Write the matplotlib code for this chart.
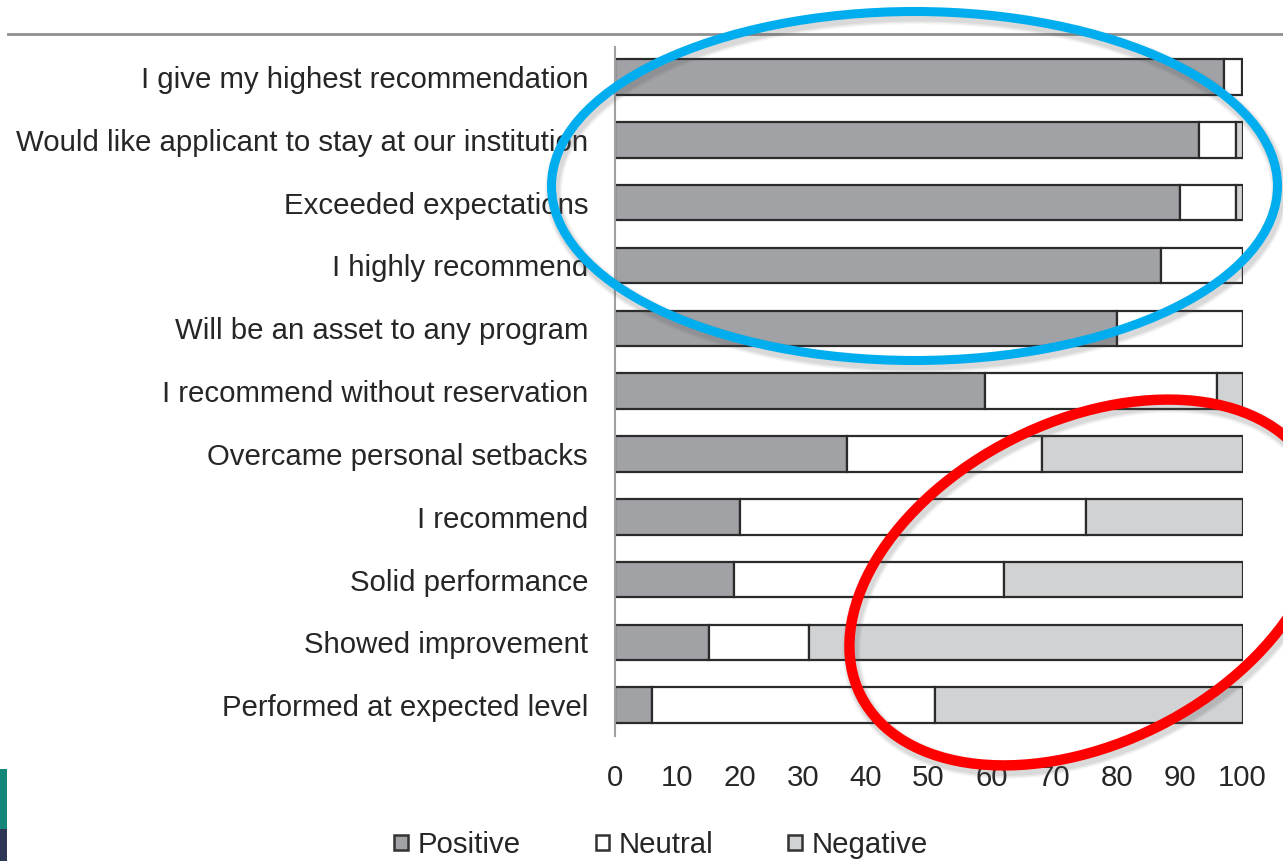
import matplotlib
matplotlib.use("Agg")
import matplotlib.pyplot as plt
from matplotlib.patches import Ellipse, Rectangle, Patch
from matplotlib.lines import Line2D
from matplotlib.transforms import IdentityTransform
import numpy as np

categories = [
    "I give my highest recommendation",
    "Would like applicant to stay at our institution",
    "Exceeded expectations",
    "I highly recommend",
    "Will be an asset to any program",
    "I recommend without reservation",
    "Overcame personal setbacks",
    "I recommend",
    "Solid performance",
    "Showed improvement",
    "Performed at expected level",
]
positive = [97, 93, 90, 87, 80, 59, 37, 20, 19, 15, 6]
neutral = [3, 6, 9, 13, 20, 37, 31, 55, 43, 16, 45]
negative = [0, 1, 1, 0, 0, 4, 32, 25, 38, 69, 49]
xticks = [0, 10, 20, 30, 40, 50, 60, 70, 80, 90, 100]
series_names = ["Positive", "Neutral", "Negative"]
series_colors = ["#a1a2a6", "#ffffff", "#d1d2d4"]

plt.rcParams['font.family'] = ['Liberation Sans', 'DejaVu Sans']

W, H = 1283, 861
fig = plt.figure(figsize=(W / 100, H / 100), dpi=100)
fig.patch.set_facecolor('white')

ax = fig.add_axes([614.5 / W, 1 - 736 / H, (1242.5 - 614.5) / W, (736 - 47) / H])

y = np.arange(len(categories))
edge = '#2b2b2b'
left = np.zeros(len(categories))
for vals, name, col in zip([positive, neutral, negative], series_names, series_colors):
    vals = np.array(vals, dtype=float)
    ax.barh(y, vals, left=left, height=0.565, color=col, edgecolor=edge,
            linewidth=1.6, label=name, zorder=2)
    left += vals

ax.set_xlim(0, 100)
ax.set_ylim(10.49, -0.478)
ax.set_yticks(y)
ax.set_yticklabels(categories)
ax.set_xticks(xticks)
ax.set_xticklabels([str(t) for t in xticks])
ax.tick_params(axis='both', length=0, labelsize=21.2, colors='#262626')
ax.tick_params(axis='y', pad=19)
ax.tick_params(axis='x', pad=20)
for s in ['top', 'right', 'bottom']:
    ax.spines[s].set_visible(False)
ax.spines['left'].set_color('#a0a0a0')
ax.spines['left'].set_linewidth(1.5)

handles = [Patch(facecolor=c, edgecolor='#333333', linewidth=1.8) for c in series_colors]
fig.legend(handles, series_names, loc='center', bbox_to_anchor=(661 / W, 1 - 845 / H),
           ncol=3, frameon=False, handlelength=0.45, handleheight=0.45,
           handletextpad=0.33, columnspacing=2.55, fontsize=21.2, labelcolor='#262626')

# top rule
fig.add_artist(Line2D([8 / W, 1], [1 - 34 / H, 1 - 34 / H], transform=fig.transFigure,
                      color='#8f8f8f', lw=2))

# bottom-left slide decoration
fig.add_artist(Rectangle((0, H - 829), 7, 60, transform=IdentityTransform(),
                         facecolor='#13877a', edgecolor='none'))
fig.add_artist(Rectangle((0, 0), 7, H - 829, transform=IdentityTransform(),
                         facecolor='#2d3654', edgecolor='none'))

# annotation ellipses with soft shadow
def ring(cx, cy, w, h, ang, color, lw):
    for k, a in [(6, 0.06), (4, 0.08), (2, 0.10)]:
        fig.add_artist(Ellipse((cx + 2, H - cy - 4), w, h, angle=ang, fill=False,
                               edgecolor='#555555', lw=lw + k, alpha=a,
                               transform=IdentityTransform(), zorder=9))
    fig.add_artist(Ellipse((cx, H - cy), w, h, angle=ang, fill=False, edgecolor=color,
                           lw=lw, transform=IdentityTransform(), zorder=10))

ring(914.5, 186, 726, 349, 0, '#00aeef', 6.5)
ring(1086, 582.5, 504, 322, 26.6, '#ff0000', 7.5)

fig.savefig('out.png', dpi=100, facecolor='white')
